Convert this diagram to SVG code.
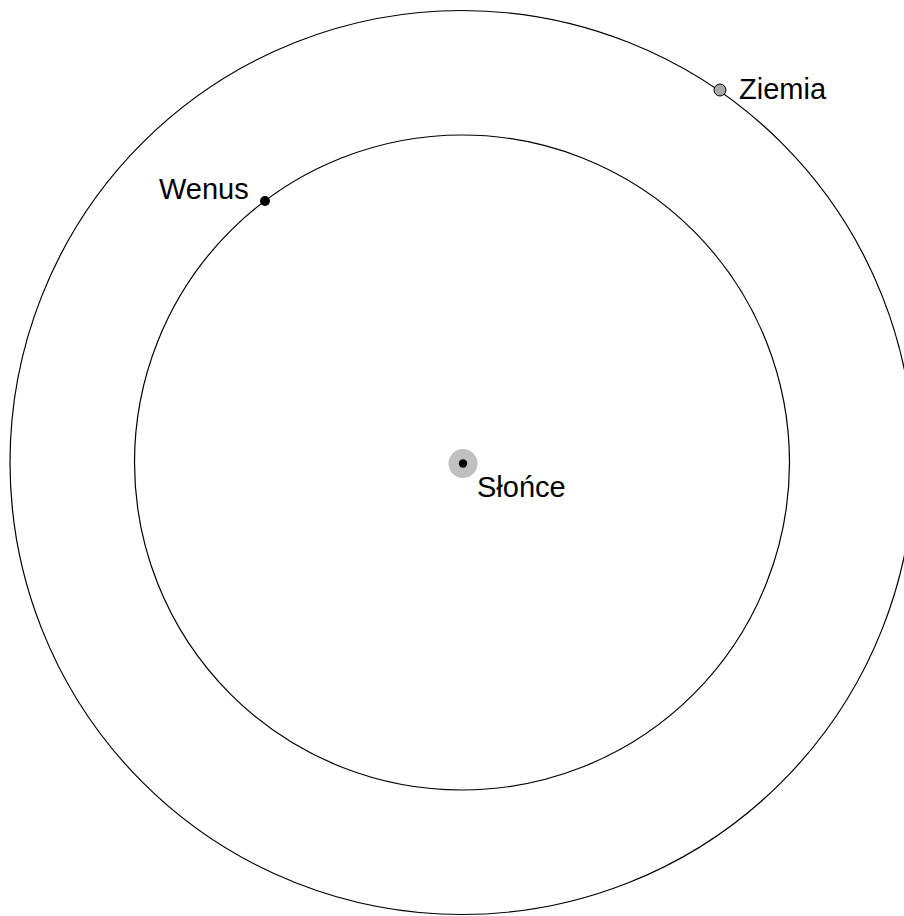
<svg xmlns="http://www.w3.org/2000/svg" width="904" height="916" viewBox="0 0 904 916">
<style>
.orbit{fill:none;stroke:#000;stroke-width:1.2}
.lbl{font-family:"Liberation Sans",Arial,sans-serif;font-size:29px;fill:#000}
</style>
<rect width="904" height="916" fill="#fff"/>
<g id="orbits">
<circle id="orbit-ziemia" class="orbit" cx="462" cy="462.5" r="452"/>
<circle id="orbit-wenus" class="orbit" cx="462" cy="462.5" r="327.5"/>
</g>
<g id="slonce">
<circle cx="463" cy="463.5" r="14.5" fill="#c0c0c0"/>
<circle cx="463" cy="463.5" r="4.2" fill="#000"/>
<text class="lbl" x="477" y="497">Słońce</text>
</g>
<g id="wenus">
<circle cx="265" cy="201" r="5" fill="#000"/>
<text class="lbl" x="159" y="199">Wenus</text>
</g>
<g id="ziemia">
<circle cx="720" cy="90" r="6" fill="#a8a8a8" stroke="#000" stroke-width="1"/>
<text class="lbl" x="739" y="99">Ziemia</text>
</g>
</svg>
